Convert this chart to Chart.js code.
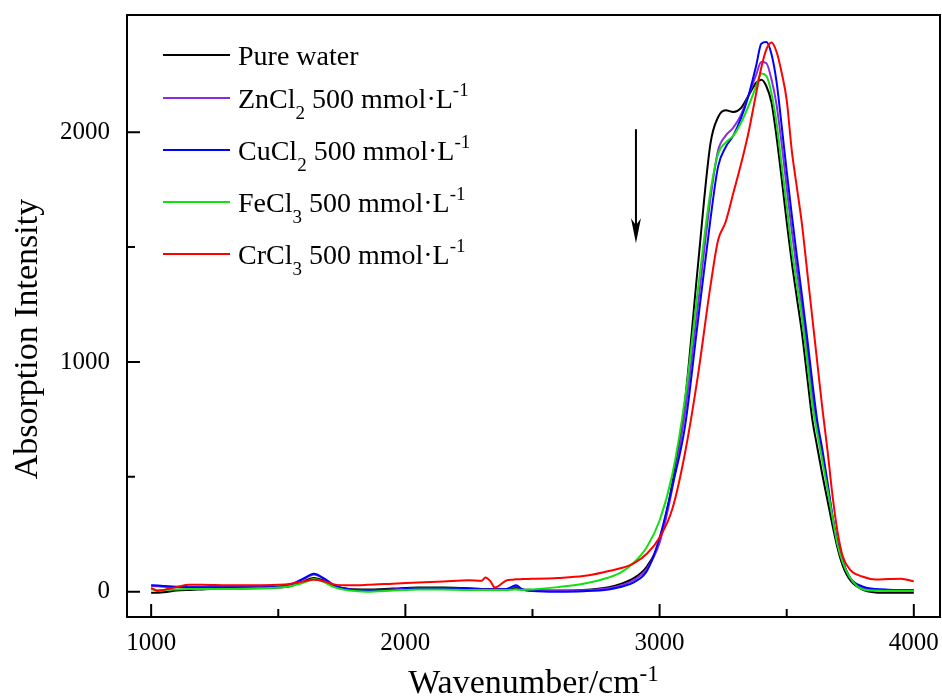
<!DOCTYPE html>
<html lang="en">
<head>
  <meta charset="UTF-8" />
  <title>Absorption Intensity vs Wavenumber</title>
  <script src="https://cdn.jsdelivr.net/npm/chart.js"></script>
  <style>
    html, body { margin: 0; padding: 0; background: #fff; }
    #wrap { width: 942px; height: 699px; }
  </style>
</head>
<body>
  <div id="wrap"><canvas id="spectrumChart" width="942" height="699"></canvas></div>

  <script>
    // wavenumber grid (cm-1), shared by all series
    const wavenumber = [1000,1025,1050,1100,1150,1200, 1300,1400,1500,1550,1600, 1640,1680,1720,1780,1850,
      1950,2050,2150,2250,2300, 2315,2335,2352,2400,2420, 2435,2460,2500,2600,2700, 2800,2850,2900,2950,3000,
      3050,3100,3150,3200,3230, 3260,3290,3320,3350,3380, 3400,3420,3440,3460,3480, 3500,3520,3540,3560,3580,
      3600,3620,3640,3660,3680, 3700,3720,3750,3800,3850, 3900,3950,4000];

    const pureWater = [-5,-4,-2,5,8,10, 14,15,18,25,45, 60,48,25,12,10, 14,18,18,15,12, 12,12,12,12,14,
      18,10,8,5,8, 20,35,60,110,220, 470,830,1410,1950,2065, 2095,2088,2105,2160,2215, 2228,2200,2130,1980,1800,
      1610,1433,1279,1126,941, 756,630,510,400,290, 190,115,50,8,-3, -5,-5,-5];

    const znCl2 = [25,24,22,20,20,20, 20,20,22,30,55, 75,55,25,10,8, 10,15,15,12,10, 10,10,10,12,20,
      25,10,5,3,6, 15,28,52,100,215, 450,780,1240,1710,1920, 1985,2020,2075,2160,2250, 2305,2300,2230,2120,1950,
      1760,1570,1400,1240,1060, 870,720,595,465,328, 210,132,60,15,7, 5,5,5];

    const cuCl2 = [28,27,25,22,20,20, 20,20,22,32,58, 78,58,28,10,6, 8,14,15,12,10, 10,10,10,12,22,
      28,10,3,0,2, 10,22,42,90,235, 460,720,1170,1620,1850, 1935,1985,2060,2160,2290, 2385,2392,2340,2220,2030,
      1830,1640,1460,1290,1110, 920,745,620,480,330, 215,135,60,22,12, 9,8,8];

    const feCl3 = [10,8,8,10,12,12, 12,14,18,25,40, 55,42,20,5,0, 5,10,10,8,8, 8,8,8,8,9,
      10,8,10,20,35, 62,85,128,195,310, 510,840,1306,1740,1905, 1955,1985,2040,2115,2200, 2255,2245,2170,2040,1860,
      1680,1490,1340,1190,1010, 820,690,570,450,325, 205,130,60,10,5, 4,4,4];

    const crCl3 = [17,3,8,20,30,30, 28,28,30,35,45, 52,45,32,28,30, 35,40,45,50,48, 62,45,18,50,52,
      54,55,56,60,68, 90,103,125,165,236, 360,604,935,1330,1530, 1610,1735,1860,2000,2170, 2280,2360,2390,2350,2260,
      2140,1920,1760,1600,1400, 1200,1000,800,620,420, 260,155,95,65,53, 55,57,45];

    // axis ticks
    const xTicks = [1000, 2000, 3000, 4000];
    const xMinorTicks = [1500, 2500, 3500];
    const yTicks = [0, 1000, 2000];
    const yMinorTicks = [500, 1500];

    // legend text pieces
    const seriesNames = ['Pure water', 'ZnCl', 'CuCl', 'FeCl', 'CrCl'];
    const seriesSubs = ['', '2', '2', '3', '3'];
    const concText = ' 500 mmol\u00B7L';
    const seriesColors = ['#000000', '#8a2be2', '#0000ff', '#11e011', '#ff0000'];
    const seriesValues = [pureWater, znCl2, cuCl2, feCl3, crCl3];

    // arrow (data coords)
    const arrowX = 2907, arrowFrom = 2013, arrowTo = 1517;

    const FONT = 'Liberation Serif';
    const legendRowY = [55, 98, 150, 202, 254];

    // draws text made of pieces [text, size, dy], returns width
    function drawPieces(ctx, pieces, x, y, measureOnly) {
      let cx = x;
      pieces.forEach(([t, size, dy]) => {
        ctx.font = size + 'px "' + FONT + '"';
        if (!measureOnly) ctx.fillText(t, cx, y + dy);
        cx += ctx.measureText(t).width;
      });
      return cx - x;
    }

    const decorPlugin = {
      id: 'decor',
      afterDraw(chart) {
        const { ctx, chartArea: a, scales: { x, y } } = chart;
        ctx.save();
        ctx.strokeStyle = '#000';
        ctx.fillStyle = '#000';
        ctx.lineWidth = 2;
        ctx.lineCap = 'butt';

        // frame
        ctx.strokeRect(a.left, a.top, a.right - a.left, a.bottom - a.top);

        // inward ticks
        ctx.beginPath();
        xTicks.forEach(v => { const p = x.getPixelForValue(v); ctx.moveTo(p, a.bottom); ctx.lineTo(p, a.bottom - 13); });
        xMinorTicks.forEach(v => { const p = x.getPixelForValue(v); ctx.moveTo(p, a.bottom); ctx.lineTo(p, a.bottom - 8); });
        yTicks.forEach(v => { const p = y.getPixelForValue(v); ctx.moveTo(a.left, p); ctx.lineTo(a.left + 13, p); });
        yMinorTicks.forEach(v => { const p = y.getPixelForValue(v); ctx.moveTo(a.left, p); ctx.lineTo(a.left + 8, p); });
        ctx.stroke();

        // arrow
        const ax = x.getPixelForValue(arrowX);
        const ay0 = y.getPixelForValue(arrowFrom);
        const ay1 = y.getPixelForValue(arrowTo);
        ctx.beginPath();
        ctx.moveTo(ax, ay0);
        ctx.lineTo(ax, ay1 - 12);
        ctx.stroke();
        ctx.beginPath();
        ctx.moveTo(ax, ay1);
        ctx.lineTo(ax - 5, ay1 - 25);
        ctx.lineTo(ax, ay1 - 18);
        ctx.lineTo(ax + 5, ay1 - 25);
        ctx.closePath();
        ctx.fill();

        // legend
        ctx.textBaseline = 'alphabetic';
        ctx.textAlign = 'left';
        seriesNames.forEach((name, i) => {
          const ly = legendRowY[i];
          ctx.strokeStyle = seriesColors[i];
          ctx.lineWidth = 2;
          ctx.beginPath();
          ctx.moveTo(163, ly);
          ctx.lineTo(230, ly);
          ctx.stroke();
          ctx.fillStyle = '#000';
          const pieces = seriesSubs[i]
            ? [[name, 28, 0], [seriesSubs[i], 19, 11], [concText, 28, 0], ['-1', 19, -12]]
            : [[name, 28, 0]];
          drawPieces(ctx, pieces, 238, ly + 10);
        });

        // x title
        ctx.fillStyle = '#000';
        const xt = [['Wavenumber/cm', 34, 0], ['-1', 23, -12]];
        const xw = drawPieces(ctx, xt, 0, 0, true);
        drawPieces(ctx, xt, (a.left + a.right) / 2 - xw / 2, 693);

        // y title
        ctx.save();
        ctx.translate(37, 339);
        ctx.rotate(-Math.PI / 2);
        ctx.font = '34px "' + FONT + '"';
        ctx.textAlign = 'center';
        ctx.fillText('Absorption Intensity', 0, 0);
        ctx.restore();

        ctx.restore();
      }
    };

    const datasets = seriesValues.map((vals, i) => ({
      label: seriesNames[i] + seriesSubs[i],
      data: wavenumber.map((w, j) => ({ x: w, y: vals[j] })),
      borderColor: seriesColors[i],
      borderWidth: 2,
      pointRadius: 0,
      fill: false,
      cubicInterpolationMode: 'monotone',
      order: seriesValues.length - i
    }));

    const tickFont = { size: 25, family: FONT };

    // keep the plot box fixed: no automatic label overflow padding
    function noPad(s) {
      s.paddingTop = 0; s.paddingBottom = 0; s.paddingLeft = 0; s.paddingRight = 0;
    }

    new Chart(document.getElementById('spectrumChart').getContext('2d'), {
      type: 'line',
      data: { datasets },
      options: {
        responsive: false,
        animation: false,
        layout: { padding: { top: 15, right: 2, left: 0, bottom: 0 } },
        plugins: { legend: { display: false }, tooltip: { enabled: false } },
        scales: {
          x: {
            type: 'linear',
            min: 905,
            max: 4103,
            afterBuildTicks: s => { s.ticks = xTicks.map(v => ({ value: v })); },
            afterFit: s => { s.height = 82; noPad(s); },
            grid: { display: false, drawTicks: false },
            border: { display: false },
            ticks: { padding: 11, color: '#000', font: tickFont, maxRotation: 0, autoSkip: false, callback: v => String(v) }
          },
          y: {
            type: 'linear',
            min: -110,
            max: 2510,
            afterBuildTicks: s => { s.ticks = yTicks.map(v => ({ value: v })); },
            afterFit: s => { s.width = 127; noPad(s); },
            grid: { display: false, drawTicks: false },
            border: { display: false },
            ticks: { padding: 17, color: '#000', font: tickFont, autoSkip: false, callback: v => String(v) }
          }
        }
      },
      plugins: [decorPlugin]
    });
  </script>
</body>
</html>
